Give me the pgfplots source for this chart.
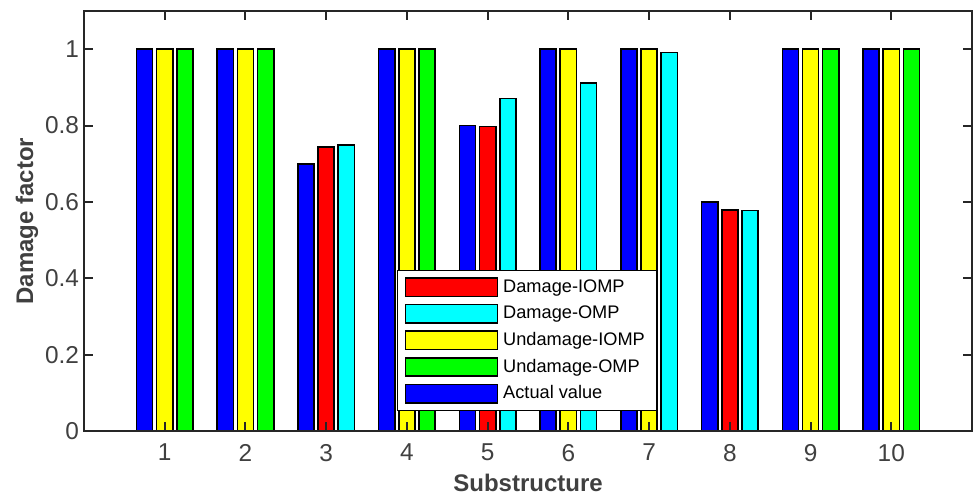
\documentclass[border=0pt]{standalone}
\usepackage{fontspec}
\setmainfont{Liberation Sans}
\usepackage{pgfplots}
\pgfplotsset{compat=1.18}
\definecolor{axgray}{gray}{0.15}
\definecolor{txgray}{gray}{0.25}
\definecolor{cRed}{RGB}{255,0,0}
\definecolor{cCyan}{RGB}{0,255,255}
\definecolor{cYellow}{RGB}{255,255,0}
\definecolor{cGreen}{RGB}{0,255,0}
\definecolor{cBlue}{RGB}{0,0,255}
\pgfplotsset{
  mybar/.style={ybar, bar width=0.2, draw=black, line width=0.8pt,
    legend image code/.code={\draw[##1, line width=0.8pt] (0pt,-4.6pt) rectangle (46pt,4.6pt);}},
}
\begin{document}
\begin{tikzpicture}
\begin{axis}[
  scale only axis,
  width=444pt, height=210pt,
  xmin=0, xmax=11, ymin=0, ymax=1.1,
  xtick={1,...,10},
  ytick={0,0.2,0.4,0.6,0.8,1},
  yticklabels={0,0.2,0.4,0.6,0.8,1},
  tick align=inside,
  tick pos=both,
  major tick length=4.5pt,
  axis line style={axgray, line width=1pt},
  every tick/.style={axgray, line width=1pt},
  axis on top,
  /pgf/number format/assume math mode=true,
  ticklabel style={font=\fontsize{12.2}{14}\selectfont, text=txgray},
  xticklabel style={yshift=-3pt},
  yticklabel style={xshift=1pt},
  xlabel={\textbf{Substructure}},
  ylabel={\textbf{Damage factor}},
  label style={font=\fontsize{12}{14}\selectfont, text=txgray},
  xlabel style={yshift=0.5pt},
  ylabel style={yshift=-3.5pt},
  legend cell align=left,
  legend style={at={(axis cs:3.88,0.4215)}, anchor=north west,
    draw=black, line width=0.6pt, fill=white,
    font=\fontsize{9.1}{11}\selectfont,
    inner xsep=3.5pt, inner ysep=2pt, row sep=0.5pt,
    nodes={inner sep=2.4pt, text=black}},
]
\coordinate (sw) at (rel axis cs:0,0);
\addplot[mybar, fill=cRed, bar shift=0] coordinates {(3,0.744) (5,0.797) (8,0.579)};
\addlegendentry{Damage-IOMP}
\addplot[mybar, fill=cCyan, bar shift=0.25] coordinates {(3,0.749) (5,0.871) (6,0.912) (7,0.991) (8,0.577)};
\addlegendentry{Damage-OMP}
\addplot[mybar, fill=cYellow, bar shift=0] coordinates {(1,1) (2,1) (4,1) (6,1) (7,1) (9,1) (10,1)};
\addlegendentry{Undamage-IOMP}
\addplot[mybar, fill=cGreen, bar shift=0.25] coordinates {(1,1) (2,1) (4,1) (9,1) (10,1)};
\addlegendentry{Undamage-OMP}
\addplot[mybar, fill=cBlue, bar shift=-0.25] coordinates {(1,1) (2,1) (3,0.70) (4,1) (5,0.80) (6,1) (7,1) (8,0.60) (9,1) (10,1)};
\addlegendentry{Actual value}
\end{axis}
\pgfresetboundingbox
\path[use as bounding box] ([shift={(-42pt,-33.5pt)}]sw) rectangle ([shift={(444.5pt,215.5pt)}]sw);
\end{tikzpicture}
\end{document}
